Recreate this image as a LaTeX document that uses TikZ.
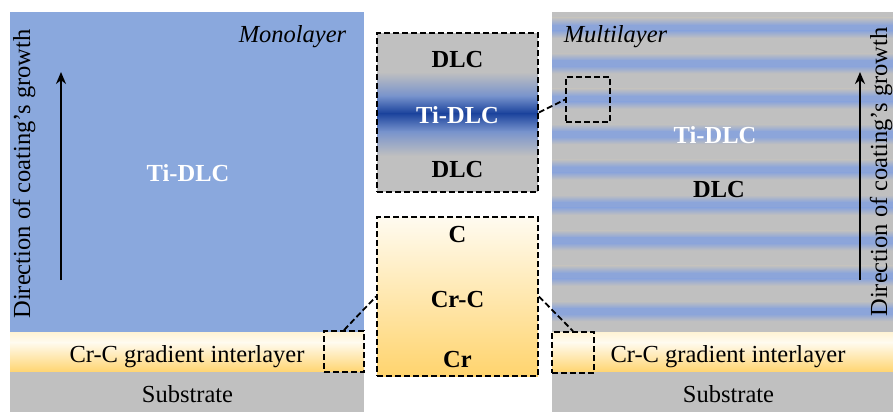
\documentclass[tikz,border=0pt]{standalone}
\usepackage{fontspec}
\setmainfont{Liberation Serif}
\usetikzlibrary{arrows.meta}

% layer colours
\definecolor{monoblue}{RGB}{138,168,221}
\definecolor{stripeblue}{RGB}{140,165,218}
\definecolor{coatgray}{RGB}{192,192,192}
\definecolor{deepblue}{RGB}{26,66,156}
\definecolor{midblue}{RGB}{118,146,204}
\definecolor{creamtop}{RGB}{255,243,212}
\definecolor{creamwhite}{RGB}{255,251,240}
\definecolor{gold}{RGB}{255,212,110}

\tikzset{
  lbl/.style={font=\fontsize{24.5}{28}\selectfont, anchor=base, inner sep=0pt},
  lblb/.style={lbl, font=\fontsize{24.5}{28}\selectfont\bfseries},
  lbli/.style={lbl, font=\fontsize{24.5}{28}\selectfont\itshape},
  dashbox/.style={draw=black, line width=1.8pt, dash pattern=on 6pt off 3pt,
                  inner sep=0pt, fill=none},
  link/.style={draw=black, line width=1.8pt, dash pattern=on 6pt off 3pt},
  growth/.style={draw=black, line width=2pt, -{Stealth[length=12pt,width=10pt]}},
  vlbl/.style={lbl, rotate=90},
}

\begin{document}
\begin{tikzpicture}[x=1pt, y=-1pt]
\useasboundingbox (0,0) rectangle (893,412);
\clip (0,0) rectangle (893,412);
\fill[white] (0,0) rectangle (893,412);

% ---------- monolayer stack ----------
\fill[monoblue] (10,12) rectangle (364,332.5);
\shade[top color=creamtop, bottom color=creamwhite] (10,332) rectangle (364,342.5);
\shade[top color=creamwhite, bottom color=gold] (10,342) rectangle (364,372.5);
\fill[coatgray] (10,372) rectangle (364,412);

% ---------- multilayer stack ----------
\fill[coatgray] (552,12) rectangle (893,332.5);
\foreach \c in {28,63.4,98.8,134.2,169.6,205,240.4,275.8,311.2}{
  \shade[top color=coatgray, bottom color=stripeblue] (552,{\c-10}) rectangle (893,{\c-2.8});
  \fill[stripeblue] (552,{\c-3}) rectangle (893,{\c+3});
  \shade[top color=stripeblue, bottom color=coatgray] (552,{\c+2.8}) rectangle (893,{\c+10});
}
\shade[top color=creamtop, bottom color=creamwhite] (552,332) rectangle (893,342.5);
\shade[top color=creamwhite, bottom color=gold] (552,342) rectangle (893,372.5);
\fill[coatgray] (552,372) rectangle (893,412);

% ---------- magnified views ----------
\fill[coatgray] (377,33) rectangle (538,192);
\shade[top color=coatgray, bottom color=midblue] (377,72) rectangle (538,96.5);
\shade[top color=midblue, bottom color=deepblue] (377,96) rectangle (538,113.5);
\shade[top color=deepblue, bottom color=midblue] (377,113) rectangle (538,131.5);
\shade[top color=midblue, bottom color=coatgray] (377,131) rectangle (538,156);

\shade[top color=creamwhite, bottom color=gold] (377,217) rectangle (538,376);

\node[dashbox, minimum width=161pt, minimum height=159pt] (tibox) at (457.5,112.5) {};
\node[dashbox, minimum width=161pt, minimum height=159pt] (crbox) at (457.5,296.5) {};

% marked regions
\node[dashbox, minimum width=44pt, minimum height=45pt] (mlzoom) at (588,99.5) {};
\node[dashbox, minimum width=40pt, minimum height=41pt] (monozoom) at (344,351.5) {};
\node[dashbox, minimum width=42pt, minimum height=41pt] (ilzoom) at (573,352.5) {};

\draw[link] (tibox.east) -- (mlzoom.west);
\draw[link] (monozoom.north) -- (crbox.west);
\draw[link] (crbox.east) -- (ilzoom.north);

% ---------- growth arrows ----------
\coordinate (lgA) at (61,280);
\coordinate (lgB) at (61,72);
\coordinate (rgA) at (860,280);
\coordinate (rgB) at (860,72);
\draw[growth] (lgA) -- (lgB);
\draw[growth] (rgA) -- (rgB);

% ---------- labels ----------
\node[vlbl] (ldir) at (30,174) {Direction of coating’s growth};
\node[vlbl] (rdir) at (887,172) {Direction of coating’s growth};

\node[lbli] (mono) at (292.5,42) {Monolayer};
\node[lbli] (multi) at (615.5,42) {Multilayer};

\node[lblb, text=white] (ltidlc) at (188,181) {Ti-DLC};
\node[lblb, text=white] (rtidlc) at (715,143) {Ti-DLC};
\node[lblb] (rdlc) at (719,197) {DLC};

\node[lbl] (lil) at (187,362) {Cr-C gradient interlayer};
\node[lbl] (lsub) at (187.5,402) {Substrate};
\node[lbl] (ril) at (728,362) {Cr-C gradient interlayer};
\node[lbl] (rsub) at (728.5,402) {Substrate};

\node[lblb] (zdlc1) at (457.5,67) {DLC};
\node[lblb, text=white] (ztidlc) at (457.5,123) {Ti-DLC};
\node[lblb] (zdlc2) at (457.5,177) {DLC};

\node[lblb] (zc) at (457.5,242) {C};
\node[lblb] (zcrc) at (457.5,307) {Cr-C};
\node[lblb] (zcr) at (457.5,367) {Cr};
\end{tikzpicture}
\end{document}
